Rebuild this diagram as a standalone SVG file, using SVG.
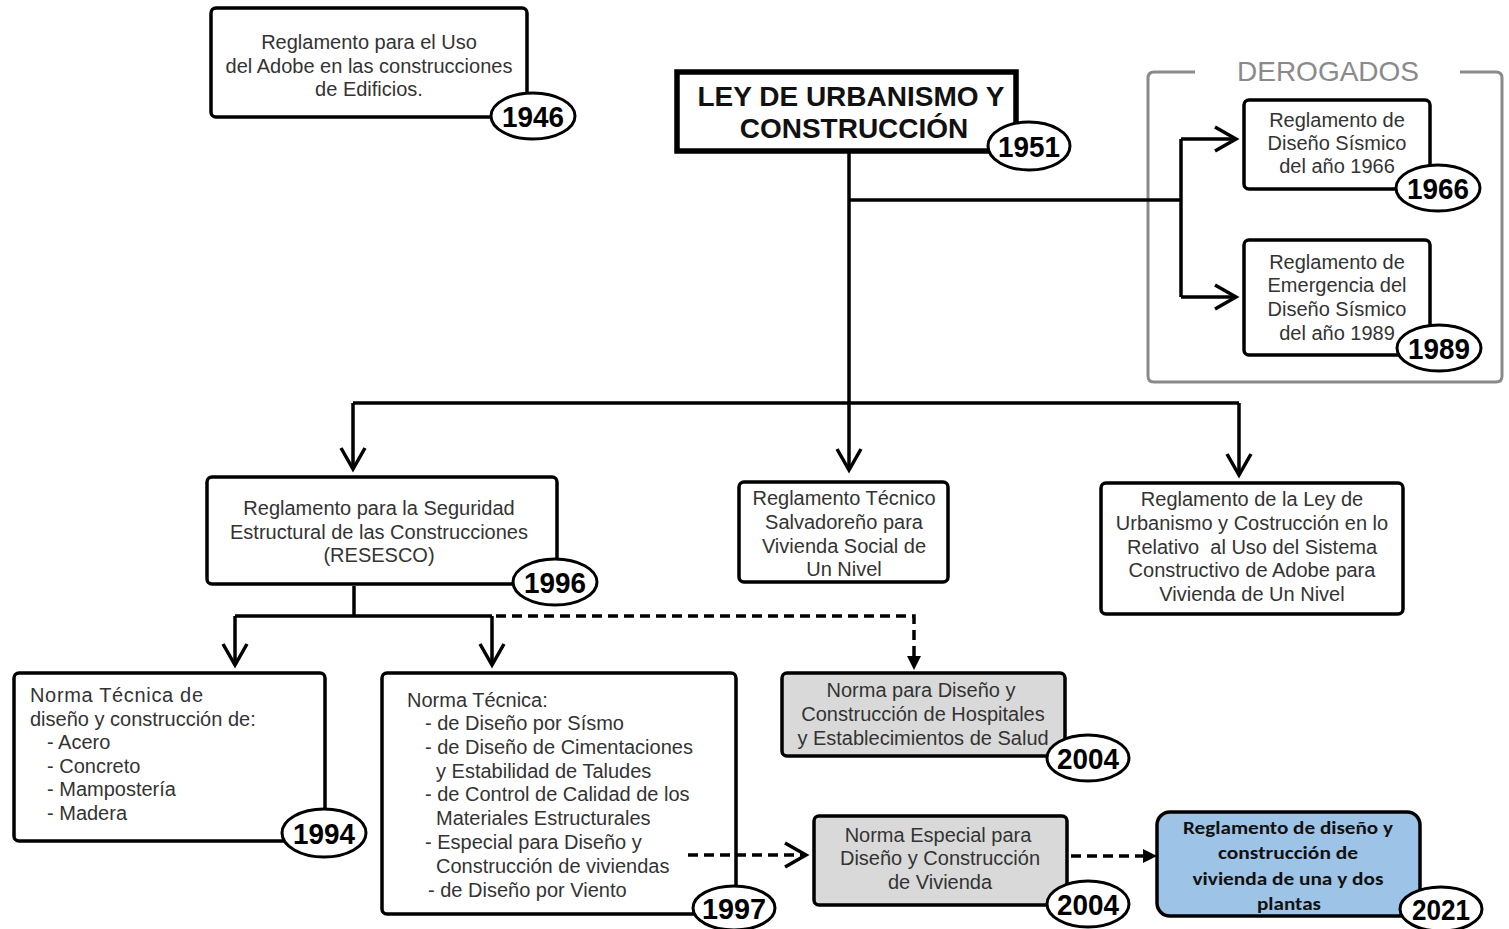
<svg xmlns="http://www.w3.org/2000/svg" width="1509" height="929" viewBox="0 0 1509 929">
<defs>
<marker id="open" viewBox="0 0 12 14" refX="11" refY="7" markerWidth="12" markerHeight="14" markerUnits="userSpaceOnUse" orient="auto" overflow="visible">
<path d="M-10,-5 L11,7 L-10,19" fill="none" stroke="#000" stroke-width="3.5" stroke-linejoin="miter"/>
</marker>
<style>
.box{fill:#fff;stroke:#000;stroke-width:3.5}
.grey{fill:#d9d9d9;stroke:#000;stroke-width:3.5}
.blue{fill:#9dc3e6;stroke:#000;stroke-width:3.5}
.ell{fill:#fff;stroke:#000;stroke-width:3}
.yr{font-family:"Liberation Sans",Arial,sans-serif;font-weight:bold;font-size:30px;fill:#000;text-anchor:middle}
.t{font-family:"Liberation Sans",Arial,sans-serif;font-size:20px;fill:#333;text-anchor:middle}
.tl{font-family:"Liberation Sans",Arial,sans-serif;font-size:20px;fill:#333}
.tb{font-family:Carlito,"Liberation Sans",Arial,sans-serif;font-weight:bold;font-size:19px;fill:#111;text-anchor:middle}
.ln{fill:none;stroke:#000;stroke-width:3.5}
.dash{fill:none;stroke:#000;stroke-width:3.5;stroke-dasharray:10 6}
</style>
</defs>

<g id="derogados">
<path d="M1195,72 L1154,72 Q1148,72 1148,78 L1148,376 Q1148,382 1154,382 L1496,382 Q1502,382 1502,376 L1502,78 Q1502,72 1496,72 L1460,72" fill="none" stroke="#8a8a8a" stroke-width="3"/>
<text x="1328" y="81" font-family="Liberation Sans,Arial,sans-serif" font-size="28" fill="#8a8a8a" text-anchor="middle">DEROGADOS</text>
</g>

<g id="n1946">
<rect class="box" x="211" y="8" width="316" height="109" rx="5"/>
<text class="t" x="369" y="49">Reglamento para el Uso</text>
<text class="t" x="369" y="73">del Adobe en las construcciones</text>
<text class="t" x="369" y="96">de Edificios.</text>
<ellipse class="ell" cx="533" cy="116" rx="42" ry="23"/>
<text class="yr" x="533" y="127" textLength="62" lengthAdjust="spacingAndGlyphs">1946</text>
</g>

<g id="n1951">
<rect x="677" y="72" width="339" height="79" fill="#fff" stroke="#000" stroke-width="5.5"/>
<text x="851" y="106" font-family="Liberation Sans,Arial,sans-serif" font-weight="bold" font-size="28" fill="#111" text-anchor="middle">LEY DE URBANISMO Y</text>
<text x="854" y="138" font-family="Liberation Sans,Arial,sans-serif" font-weight="bold" font-size="28" fill="#111" text-anchor="middle">CONSTRUCCIÓN</text>
<ellipse class="ell" cx="1029" cy="146" rx="41" ry="24"/>
<text class="yr" x="1029" y="157" textLength="62" lengthAdjust="spacingAndGlyphs">1951</text>
</g>

<g id="n1966">
<rect class="box" x="1244" y="100" width="186" height="89" rx="5"/>
<text class="t" x="1337" y="127">Reglamento de</text>
<text class="t" x="1337" y="150">Diseño Sísmico</text>
<text class="t" x="1337" y="173">del año 1966</text>
<ellipse class="ell" cx="1438" cy="188" rx="42" ry="23"/>
<text class="yr" x="1438" y="199" textLength="62" lengthAdjust="spacingAndGlyphs">1966</text>
</g>

<g id="n1989">
<rect class="box" x="1244" y="240" width="186" height="115" rx="5"/>
<text class="t" x="1337" y="269">Reglamento de</text>
<text class="t" x="1337" y="292">Emergencia del</text>
<text class="t" x="1337" y="316">Diseño Sísmico</text>
<text class="t" x="1337" y="340">del año 1989</text>
<ellipse class="ell" cx="1439" cy="348" rx="42" ry="23"/>
<text class="yr" x="1439" y="359" textLength="62" lengthAdjust="spacingAndGlyphs">1989</text>
</g>

<g id="n1996">
<rect class="box" x="207" y="477" width="350" height="107" rx="5"/>
<text class="t" x="379" y="515">Reglamento para la Seguridad</text>
<text class="t" x="379" y="539">Estructural de las Construcciones</text>
<text class="t" x="379" y="562">(RESESCO)</text>
<ellipse class="ell" cx="555" cy="582" rx="42" ry="23"/>
<text class="yr" x="555" y="593" textLength="62" lengthAdjust="spacingAndGlyphs">1996</text>
</g>

<g id="nRTS">
<rect class="box" x="739" y="482" width="209" height="100" rx="5"/>
<text class="t" x="844" y="505">Reglamento Técnico</text>
<text class="t" x="844" y="529">Salvadoreño para</text>
<text class="t" x="844" y="553">Vivienda Social de</text>
<text class="t" x="844" y="576">Un Nivel</text>
</g>

<g id="nAdobe">
<rect class="box" x="1101" y="483" width="302" height="131" rx="5"/>
<text class="t" x="1252" y="506">Reglamento de la Ley de</text>
<text class="t" x="1252" y="530">Urbanismo y Costrucción en lo</text>
<text class="t" x="1252" y="554">Relativo&#160; al Uso del Sistema</text>
<text class="t" x="1252" y="577">Constructivo de Adobe para</text>
<text class="t" x="1252" y="601">Vivienda de Un Nivel</text>
</g>

<g id="n1994">
<rect class="box" x="14" y="673" width="311" height="168" rx="5"/>
<text class="tl" x="30" y="702" textLength="173" lengthAdjust="spacing">Norma Técnica de</text>
<text class="tl" x="30" y="726">diseño y construcción de:</text>
<text class="tl" x="47" y="749">- Acero</text>
<text class="tl" x="47" y="773">- Concreto</text>
<text class="tl" x="47" y="796">- Mampostería</text>
<text class="tl" x="47" y="820">- Madera</text>
<ellipse class="ell" cx="324" cy="833" rx="42" ry="24"/>
<text class="yr" x="324" y="844" textLength="62" lengthAdjust="spacingAndGlyphs">1994</text>
</g>

<g id="n1997">
<rect class="box" x="382" y="673" width="354" height="241" rx="5"/>
<text class="tl" x="407" y="707">Norma Técnica:</text>
<text class="tl" x="425" y="730">- de Diseño por Sísmo</text>
<text class="tl" x="425" y="754">- de Diseño de Cimentaciones</text>
<text class="tl" x="436" y="778">y Estabilidad de Taludes</text>
<text class="tl" x="425" y="801">- de Control de Calidad de los</text>
<text class="tl" x="436" y="825">Materiales Estructurales</text>
<text class="tl" x="425" y="849">- Especial para Diseño y</text>
<text class="tl" x="436" y="873">Construcción de viviendas</text>
<text class="tl" x="428" y="897">- de Diseño por Viento</text>
<ellipse class="ell" cx="734" cy="908" rx="41" ry="22"/>
<text class="yr" x="734" y="919" textLength="64" lengthAdjust="spacingAndGlyphs">1997</text>
</g>

<g id="nHosp">
<rect class="grey" x="782" y="673" width="283" height="83" rx="5"/>
<text class="t" x="921" y="697">Norma para Diseño y</text>
<text class="t" x="923" y="721">Construcción de Hospitales</text>
<text class="t" x="923" y="745">y Establecimientos de Salud</text>
<ellipse class="ell" cx="1088" cy="758" rx="41" ry="23"/>
<text class="yr" x="1088" y="769" textLength="62" lengthAdjust="spacingAndGlyphs">2004</text>
</g>

<g id="nViv">
<rect class="grey" x="814" y="816" width="253" height="89" rx="5"/>
<text class="t" x="938" y="842">Norma Especial para</text>
<text class="t" x="940" y="865">Diseño y Construcción</text>
<text class="t" x="940" y="889">de Vivienda</text>
<ellipse class="ell" cx="1088" cy="904" rx="41" ry="23"/>
<text class="yr" x="1088" y="915" textLength="62" lengthAdjust="spacingAndGlyphs">2004</text>
</g>

<g id="n2021">
<rect class="blue" x="1157" y="812" width="263" height="104" rx="13"/>
<text class="tb" x="1288" y="834" textLength="210" lengthAdjust="spacingAndGlyphs">Reglamento de diseño y</text>
<text class="tb" x="1288" y="859" textLength="140" lengthAdjust="spacingAndGlyphs">construcción de</text>
<text class="tb" x="1288" y="885" textLength="191" lengthAdjust="spacingAndGlyphs">vivienda de una y dos</text>
<text class="tb" x="1289" y="910" textLength="64" lengthAdjust="spacingAndGlyphs">plantas</text>
<ellipse class="ell" cx="1441" cy="909" rx="41" ry="22"/>
<text class="yr" x="1441" y="920" textLength="58" lengthAdjust="spacingAndGlyphs">2021</text>
</g>

<g id="connectors">
<path class="ln" d="M849,153 L849,470" marker-end="url(#open)"/>
<path class="ln" d="M849,200 L1181,200"/>
<path class="ln" d="M1181,139 L1181,297"/>
<path class="ln" d="M1181,139 L1236,139" marker-end="url(#open)"/>
<path class="ln" d="M1181,297 L1236,297" marker-end="url(#open)"/>
<path class="ln" d="M353,403 L1239,403"/>
<path class="ln" d="M353,403 L353,469" marker-end="url(#open)"/>
<path class="ln" d="M1239,403 L1239,475" marker-end="url(#open)"/>
<path class="ln" d="M354,586 L354,616"/>
<path class="ln" d="M235,616 L492,616"/>
<path class="ln" d="M235,616 L235,665" marker-end="url(#open)"/>
<path class="ln" d="M492,616 L492,665" marker-end="url(#open)"/>
<path class="dash" d="M496,616 L914,616 L914,657"/>
<path d="M907,656 L921,656 L914,670 Z" fill="#000"/>
<path class="dash" d="M688,855 L806,855" marker-end="url(#open)"/>
<path class="dash" d="M1071,856 L1145,856"/>
<path d="M1143,849 L1157,856 L1143,863 Z" fill="#000"/>
</g>
</svg>
